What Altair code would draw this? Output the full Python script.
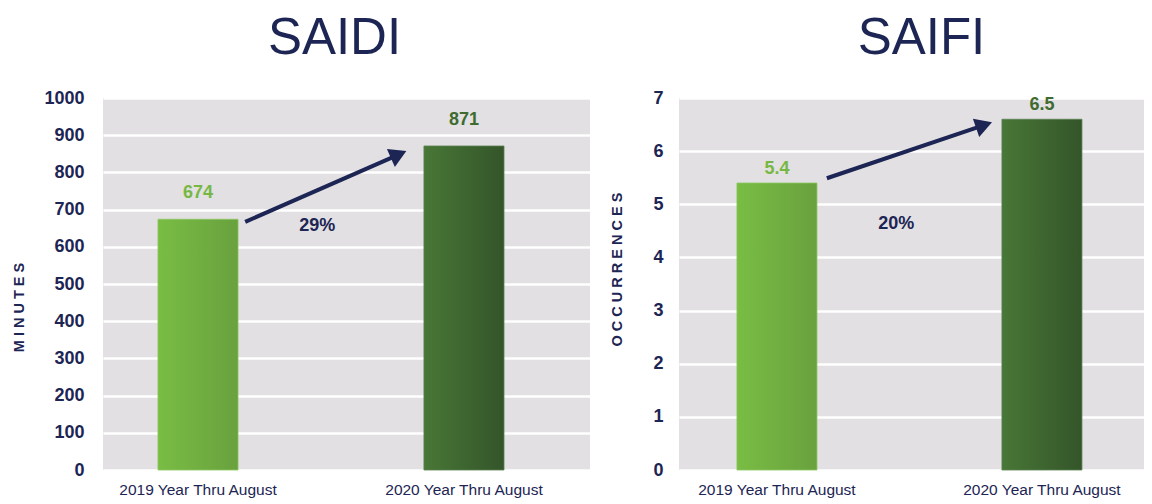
import altair as alt
import pandas as pd

# ---------------- data ----------------
categories = ["2019 Year Thru August", "2020 Year Thru August"]

saidi_values = [674, 871]
saidi_labels = ["674", "871"]
saidi_change = "29%"

saifi_values = [5.4, 6.6]
saifi_labels = ["5.4", "6.5"]
saifi_change = "20%"

# arrow annotation (x as fraction of panel width, y in data units)
saidi_arrow_x = [0.292, 0.607]
saidi_arrow_y = [667, 848]
saidi_pct_x = [0.44]
saidi_pct_y = [656]

saifi_arrow_x = [0.318, 0.656]
saifi_arrow_y = [5.49, 6.49]
saifi_pct_x = [0.467]
saifi_pct_y = [4.62]

saidi_ticks = list(range(0, 1001, 100))
saifi_ticks = list(range(0, 8))

# ---------------- style ----------------
NAVY = "#1c2553"
FONT = "Liberation Sans"
LIGHT_LABEL = "#77b844"
DARK_LABEL = "#3f6b2f"
BG = "#e2e0e3"

grad_light = alt.Gradient(
    gradient="linear",
    stops=[alt.GradientStop(color="#79bd44", offset=0),
           alt.GradientStop(color="#69a13e", offset=1)],
    x1=0, x2=1, y1=0, y2=0,
)
grad_dark = alt.Gradient(
    gradient="linear",
    stops=[alt.GradientStop(color="#487736", offset=0),
           alt.GradientStop(color="#34552a", offset=1)],
    x1=0, x2=1, y1=0, y2=0,
)


def panel(title, title_dx, values, labels, change, arrow_x, arrow_y, pct_x, pct_y,
          ticks, ymax, ytitle, title_y, title_pad, label_pad, width, pin, pout,
          palign, label_dy, arrow_angle, fmt):
    df = pd.DataFrame({
        "cat": categories,
        "v": values,
        "lab": labels,
        "idx": [0, 1],
        "lcol": [LIGHT_LABEL, DARK_LABEL],
    })
    xenc = alt.X(
        "cat:N",
        scale=alt.Scale(domain=categories, paddingInner=pin, paddingOuter=pout, align=palign),
        axis=alt.Axis(title=None, labelAngle=0, labelFontSize=15.5, labelColor=NAVY,
                      labelFont=FONT, labelPadding=12, grid=False, domain=False,
                      ticks=False, orient="bottom"),
    )
    yscale = alt.Scale(domain=[0, ymax], nice=False, zero=True)
    yaxis = alt.Axis(values=ticks, format=fmt, title=ytitle, labelFontSize=18,
                     labelFontWeight="bold", labelColor=NAVY, labelFont=FONT,
                     labelPadding=label_pad, titleFontSize=14.5, titleFontWeight="bold",
                     titleColor=NAVY, titleFont=FONT, titlePadding=title_pad,
                     titleY=title_y, grid=True, gridColor="white", gridWidth=2.5,
                     domain=False, ticks=False)
    yenc = alt.Y("v:Q", scale=yscale, axis=yaxis)

    base = alt.Chart(df)
    bar1 = base.transform_filter("datum.idx == 0").mark_bar(
        color=grad_light, stroke="#8cc660", strokeWidth=0.8).encode(x=xenc, y=yenc)
    bar2 = base.transform_filter("datum.idx == 1").mark_bar(
        color=grad_dark, stroke="#5a8150", strokeWidth=0.8).encode(x=xenc, y=yenc)
    txt = base.mark_text(fontSize=18, fontWeight="bold", font=FONT, dy=label_dy,
                         baseline="middle").encode(
        x=xenc, y=yenc, text="lab:N", color=alt.Color("lcol:N", scale=None))
    bars = alt.layer(bar1, bar2, txt)

    qx = alt.Scale(domain=[0, 1], nice=False, zero=False)
    qxenc = alt.X("x0:Q", scale=qx, axis=None)
    adf = pd.DataFrame({"x0": [arrow_x[0]], "x1": [arrow_x[1]],
                        "v": [arrow_y[0]], "v2": [arrow_y[1]]})
    line = alt.Chart(adf).mark_rule(strokeWidth=4, color=NAVY).encode(
        x=qxenc, x2="x1:Q", y=yenc, y2="v2:Q")
    hdf = pd.DataFrame({"x0": [arrow_x[1]], "v": [arrow_y[1]]})
    head = alt.Chart(hdf).mark_point(shape="triangle-right", filled=True, size=380,
                                     angle=arrow_angle, color=NAVY, opacity=1).encode(
        x=qxenc, y=yenc)
    pdf = pd.DataFrame({"x0": pct_x, "v": pct_y, "t": [change]})
    pct = alt.Chart(pdf).mark_text(fontSize=18, fontWeight="bold", font=FONT,
                                   color=NAVY, baseline="middle").encode(
        x=qxenc, y=yenc, text="t:N")
    notes = alt.layer(line, head, pct)

    return alt.layer(bars, notes).resolve_scale(x="independent").properties(
        width=width, height=372,
        view=alt.ViewConfig(fill=BG, stroke=None),
        title=alt.TitleParams(text=title, fontSize=51, font=FONT, fontWeight="normal",
                              color=NAVY, anchor="middle", dx=title_dx, offset=-16,
                              baseline="alphabetic"),
    )


left = panel("SAIDI", -12, saidi_values, saidi_labels, saidi_change,
             saidi_arrow_x, saidi_arrow_y, saidi_pct_x, saidi_pct_y,
             saidi_ticks, 1000, "M I N U T E S", 209, 17, 19, 487,
             0.699, 0.265, 0.39, -26, 336, "d")
right = panel("SAIFI", 10, saifi_values, saifi_labels, saifi_change,
              saifi_arrow_x, saifi_arrow_y, saifi_pct_x, saifi_pct_y,
              saifi_ticks, 7, "O C C U R R E N C E S", 171, 28, 16, 465,
              0.698, 0.2264, 0.483, -14, 341, "d")

chart = alt.hconcat(left, right, spacing=19).properties(
    padding={"left": 3, "top": 5, "right": 0, "bottom": 0}
).configure_view(fill=BG, stroke=None).configure(font=FONT)

chart.save("out.html", embed_options={"renderer": "svg", "actions": False})
